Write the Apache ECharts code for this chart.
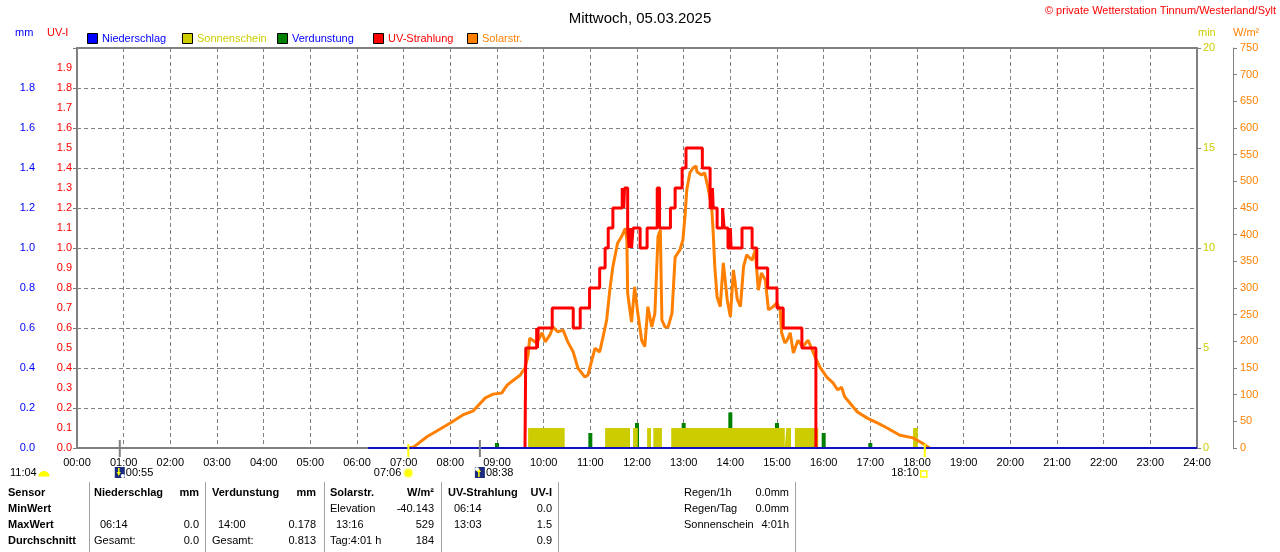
<!DOCTYPE html>
<html>
<head>
<meta charset="utf-8">
<script src="https://cdn.jsdelivr.net/npm/echarts@6/dist/echarts.min.js"></script>
<style>
  html, body { margin: 0; padding: 0; background: #fff; }
  #chart { width: 1280px; height: 552px; }
</style>
</head>
<body>
<div id="chart"></div>
<script>
// Zeiten in Minuten seit 00:00
var solarTime = [426, 433, 450, 480, 496, 509, 525, 535, 546, 553, 561, 570, 576, 580, 582, 586, 591, 598, 602, 608, 612, 618, 625, 631, 638, 644, 653, 657, 662, 666, 672, 676, 681, 685, 689, 695, 700, 705, 707, 708, 713, 717, 721, 726, 730, 734, 739, 743, 747, 750, 752, 756, 760, 765, 769, 775, 779, 782, 784, 788, 792, 796, 797, 803, 807, 811, 816, 818, 820, 823, 827, 831, 836, 840, 844, 849, 853, 857, 861, 868, 872, 876, 880, 885, 889, 895, 900, 904, 906, 910, 913, 917, 921, 927, 933, 940, 949, 955, 964, 972, 978, 983, 987, 994, 1003, 1016, 1029, 1041, 1058, 1075, 1087, 1094, 1096];
var solarValue = [0, 2, 21, 47, 62, 69, 94, 101, 103, 118, 127, 137, 150, 174, 206, 202, 197, 216, 199, 212, 227, 218, 221, 199, 180, 150, 133, 137, 165, 187, 180, 206, 240, 296, 340, 384, 396, 412, 390, 290, 236, 302, 253, 202, 190, 265, 227, 253, 396, 409, 240, 227, 227, 253, 358, 371, 390, 440, 484, 516, 525, 529, 518, 512, 516, 490, 452, 403, 340, 283, 265, 347, 278, 246, 334, 278, 265, 340, 362, 352, 371, 296, 328, 315, 259, 265, 272, 259, 216, 197, 202, 216, 178, 202, 190, 202, 171, 152, 133, 122, 109, 114, 96, 84, 68, 56, 47, 38, 24, 19, 9, 2, 0];

var uvTime = [576, 577, 591, 592, 593, 611, 638, 647, 659, 672, 679, 683, 689, 701, 703, 704, 708, 710, 712, 713, 715, 724, 733, 746, 749, 763, 769, 778, 783, 804, 814, 817, 818, 823, 830, 832, 837, 840, 841, 855, 868, 874, 888, 900, 908, 932, 950, 951];
var uvValue = [0, 0.5, 0.6, 0.5, 0.6, 0.7, 0.6, 0.7, 0.8, 0.9, 1.0, 1.1, 1.2, 1.3, 1.2, 1.3, 1.1, 1.0, 1.1, 1.0, 1.1, 1.0, 1.1, 1.3, 1.1, 1.2, 1.3, 1.4, 1.5, 1.4, 1.2, 1.3, 1.2, 1.1, 1.2, 1.1, 1.0, 1.1, 1.0, 1.1, 1.0, 0.9, 0.8, 0.7, 0.6, 0.5, 0, 0];

var sunStart = [580, 679, 715, 733, 741, 764, 912, 923, 1075];
var sunEnd   = [627, 711, 721, 738, 752, 910, 918, 953, 1081];

var evapTime  = [540, 600, 660, 720, 780, 840, 900, 960, 1020];
var evapValue = [0.025, 0.05, 0.075, 0.125, 0.125, 0.178, 0.125, 0.075, 0.025];

var rainTime  = [374, 1440];
var rainValue = [0, 0];

var sunEvents  = [426, 1090];        // Aufgang 07:06, Untergang 18:10
var sunLabels  = ['07:06', '18:10'];
var moonEvents = [55, 518];          // 00:55, 08:38
var moonLabels = ['00:55', '08:38'];

var legendNames = ['Niederschlag', 'Sonnenschein', 'Verdunstung', 'UV-Strahlung', 'Solarstr.'];
var legendBox   = ['#0000ff', '#cccc00', '#008000', '#ff0000', '#ff8000'];
var legendText  = ['#0000ff', '#cccc00', '#0000ff', '#ff0000', '#ff8000'];

var colHead  = ['Niederschlag', 'Verdunstung', 'Solarstr.', 'UV-Strahlung'];
var colUnit  = ['mm', 'mm', 'W/m²', 'UV-I'];
var minLeft  = ['', '', 'Elevation', '06:14'];
var minRight = ['', '', '-40.143', '0.0'];
var maxLeft  = ['06:14', '14:00', '13:16', '13:03'];
var maxRight = ['0.0', '0.178', '529', '1.5'];
var avgLeft  = ['Gesamt:', 'Gesamt:', 'Tag:4:01 h', ''];
var avgRight = ['0.0', '0.813', '184', '0.9'];
var rowNames = ['Sensor', 'MinWert', 'MaxWert', 'Durchschnitt'];
var sumNames  = ['Regen/1h', 'Regen/Tag', 'Sonnenschein'];
var sumValues = ['0.0mm', '0.0mm', '4:01h'];

var FONT = '"Liberation Sans", Arial, sans-serif';

function zip(a, b) {
  var out = [];
  for (var i = 0; i < a.length; i++) out.push([a[i], b[i]]);
  return out;
}

// Sonnenschein als Blöcke (1 min Höhe)
var sunData = [];
for (var i = 0; i < sunStart.length; i++) {
  sunData.push([sunStart[i], 0], [sunStart[i], 1], [sunEnd[i], 1], [sunEnd[i], 0]);
}

function pad(n) { return (n < 10 ? '0' : '') + n; }

var grid = '#808080';

var option = {
  animation: false,
  title: {
    text: 'Mittwoch, 05.03.2025',
    left: 'center',
    top: 6,
    textStyle: { color: '#000', fontSize: 15, fontWeight: 'normal', fontFamily: FONT }
  },
  grid: {
    left: 77, right: 83, top: 48, bottom: 104,
    show: true, borderColor: grid, borderWidth: 2, backgroundColor: '#fff'
  },
  xAxis: {
    type: 'value', min: 0, max: 1440, interval: 60,
    axisLine: { show: false },
    axisTick: { show: false },
    axisLabel: {
      color: '#000', fontSize: 11, fontFamily: FONT, margin: 9,
      showMinLabel: true, showMaxLabel: true,
      formatter: function (v) { return pad(Math.round(v / 60)) + ':00'; }
    },
    splitLine: { show: true, lineStyle: { color: grid, type: [4, 3], width: 1 } }
  },
  yAxis: [
    { // mm
      type: 'value', position: 'left', offset: 36, min: 0, max: 2, interval: 0.2,
      axisLine: { show: true, lineStyle: { color: grid } },
      axisTick: { show: true, length: 4, lineStyle: { color: grid } },
      axisLabel: {
        color: '#0000ff', fontSize: 11, fontFamily: FONT, margin: 6,
        formatter: function (v) { return v > 1.99 ? '' : v.toFixed(1); }
      },
      splitLine: { show: true, lineStyle: { color: grid, type: [4, 3], width: 1 } }
    },
    { // UV-I
      type: 'value', position: 'left', offset: 0, min: 0, max: 2, interval: 0.1,
      axisLine: { show: false },
      axisTick: { show: false },
      axisLabel: {
        color: '#ff0000', fontSize: 11, fontFamily: FONT, margin: 5,
        formatter: function (v) { return v > 1.99 ? '' : v.toFixed(1); }
      },
      splitLine: { show: false }
    },
    { // min
      type: 'value', position: 'right', offset: 0, min: 0, max: 20, interval: 5,
      axisLine: { show: false },
      axisTick: { show: true, length: 4, lineStyle: { color: grid } },
      axisLabel: { color: '#cccc00', fontSize: 11, fontFamily: FONT, margin: 6 },
      splitLine: { show: false }
    },
    { // W/m²
      type: 'value', position: 'right', offset: 36, min: 0, max: 750, interval: 50,
      axisLine: { show: true, lineStyle: { color: grid } },
      axisTick: { show: true, length: 4, lineStyle: { color: grid } },
      axisLabel: { color: '#ff8000', fontSize: 11, fontFamily: FONT, margin: 7 },
      splitLine: { show: false }
    }
  ],
  series: [
    {
      name: 'Sonnenschein', type: 'line', yAxisIndex: 2, data: sunData,
      symbol: 'none', lineStyle: { width: 0 },
      areaStyle: { color: '#cccc00', opacity: 1 }, silent: true
    },
    {
      name: 'Verdunstung', type: 'bar', yAxisIndex: 0, barWidth: 4,
      data: zip(evapTime, evapValue), itemStyle: { color: '#008000' }, silent: true
    },
    {
      name: 'Solarstr.', type: 'line', yAxisIndex: 3, data: zip(solarTime, solarValue),
      symbol: 'none', lineStyle: { color: '#ff8000', width: 3 }, silent: true
    },
    {
      name: 'UV-Strahlung', type: 'line', yAxisIndex: 1, step: 'end', data: zip(uvTime, uvValue),
      symbol: 'none', lineStyle: { color: '#ff0000', width: 3 }, silent: true
    },
    {
      name: 'Niederschlag', type: 'line', yAxisIndex: 0, data: zip(rainTime, rainValue),
      symbol: 'none', clip: false, z: 5,
      lineStyle: { color: '#1010c0', width: 2 }, silent: true
    }
  ]
};

var chart = echarts.init(document.getElementById('chart'));
chart.setOption(option);

// ---- Zusatzgrafik: Legende, Achsentitel, Sonne/Mond, Tabelle ----
var g = [];
function txt(x, y, s, color, align, bold, size) {
  g.push({
    type: 'text', silent: true, z: 100,
    style: {
      text: s, x: x, y: y, fill: color || '#000',
      font: (bold ? 'bold ' : '') + (size || 11) + 'px ' + FONT,
      align: align || 'left', verticalAlign: 'middle',
      textAlign: align || 'left', textVerticalAlign: 'middle'
    }
  });
}
function rect(x, y, w, h, fill, stroke) {
  g.push({
    type: 'rect', silent: true, z: 100,
    shape: { x: x, y: y, width: w, height: h },
    style: { fill: fill, stroke: stroke || null, lineWidth: stroke ? 1 : 0 }
  });
}
function vline(x, y1, y2, color, w) {
  g.push({
    type: 'line', silent: true, z: 100,
    shape: { x1: x, y1: y1, x2: x, y2: y2 },
    style: { stroke: color, lineWidth: w || 1 }
  });
}

// Copyright
txt(1276, 11, '© private Wetterstation Tinnum/Westerland/Sylt', '#ff0000', 'right');
// Achsentitel
txt(15, 33, 'mm', '#0000ff');
txt(47, 33, 'UV-I', '#ff0000');
txt(1198, 33, 'min', '#cccc00');
txt(1233, 33, 'W/m²', '#ff8000');

// Legende
var legendX = [87, 182, 277, 373, 467];
for (var k = 0; k < legendNames.length; k++) {
  rect(legendX[k] + 0.5, 33.5, 10, 10, legendBox[k], '#000');
  txt(legendX[k] + 15, 38.5, legendNames[k], legendText[k]);
}

// Sonne / Mond Markierungen
var yAxisPx = chart.convertToPixel({ yAxisIndex: 0 }, 0);
function sunIcon(cx, cy, hollow) {
  if (hollow) {
    g.push({ type: 'rect', silent: true, z: 100, shape: { x: cx - 3, y: cy - 3, width: 6, height: 6 },
      style: { fill: '#fff', stroke: '#ffff00', lineWidth: 1.5 } });
  } else {
    g.push({ type: 'circle', silent: true, z: 100, shape: { cx: cx, cy: cy, r: 5 },
      style: { fill: '#ffff80' } });
    g.push({ type: 'circle', silent: true, z: 101, shape: { cx: cx, cy: cy, r: 3.5 },
      style: { fill: '#ffff00' } });
  }
}
function moonIcon(cx, cy, up) {
  rect(cx - 5, cy - 6, 10, 11, '#1c2a80');
  g.push({ type: 'polygon', silent: true, z: 101,
    shape: { points: up ? [[cx - 3, cy - 1], [cx + 1, cy - 1], [cx - 1, cy - 5]] : [[cx - 3, cy - 1], [cx + 1, cy - 1], [cx - 1, cy + 3]] },
    style: { fill: '#ffff00' } });
  vline(cx - 1, up ? cy - 1 : cy - 5, up ? cy + 4 : cy - 1, '#ffff00', 1.5);
  g.push({ type: 'circle', silent: true, z: 101,
    shape: { cx: up ? cx - 3 : cx + 3, cy: up ? cy - 4 : cy + 3, r: 2 }, style: { fill: '#fff' } });
}
for (var s = 0; s < sunEvents.length; s++) {
  var sx = chart.convertToPixel({ xAxisIndex: 0 }, sunEvents[s]);
  vline(sx, yAxisPx - 4, yAxisPx + 9, '#ffff00', 2);
  if (s === 0) {
    sunIcon(sx, 473, false);
    txt(sx - 7, 473, sunLabels[s], '#000', 'right');
  } else {
    sunIcon(sx - 1, 474, true);
    txt(sx - 6, 473, sunLabels[s], '#000', 'right');
  }
}
for (var m = 0; m < moonEvents.length; m++) {
  var mx = chart.convertToPixel({ xAxisIndex: 0 }, moonEvents[m]);
  vline(mx, yAxisPx - 8, yAxisPx + 9, '#808080', 2);
  moonIcon(mx, 473, m === 1);
  txt(mx + 6, 473, moonLabels[m], '#000', 'left');
}
// Mondphase links unten
txt(10, 473, '11:04', '#000');
g.push({ type: 'sector', silent: true, z: 100,
  shape: { cx: 44, cy: 476.5, r0: 0, r: 5.5, startAngle: Math.PI, endAngle: Math.PI * 2 },
  style: { fill: '#ffff00' } });

// Tabelle
var rowY = [493, 509, 525, 541];
var colL = [94, 212, 330, 448];
var colR = [199, 316, 434, 552];
var sepX = [89, 205, 324, 441, 558, 795];
for (var q = 0; q < sepX.length; q++) vline(sepX[q] + 0.5, 482, 552, '#a0a0a0', 1);
for (var r = 0; r < rowNames.length; r++) txt(8, rowY[r], rowNames[r], '#000', 'left', true);
function isTime(t) { return /^\d\d:\d\d$/.test(t); }
for (var c = 0; c < colHead.length; c++) {
  txt(colL[c], rowY[0], colHead[c], '#000', 'left', true);
  txt(colR[c], rowY[0], colUnit[c], '#000', 'right', true);
  var lefts = [minLeft[c], maxLeft[c], avgLeft[c]];
  var rights = [minRight[c], maxRight[c], avgRight[c]];
  for (var rr = 0; rr < 3; rr++) {
    if (lefts[rr]) txt(colL[c] + (isTime(lefts[rr]) ? 6 : 0), rowY[rr + 1], lefts[rr]);
    if (rights[rr]) txt(colR[c], rowY[rr + 1], rights[rr], '#000', 'right');
  }
}
for (var u = 0; u < sumNames.length; u++) {
  txt(684, rowY[u], sumNames[u]);
  txt(789, rowY[u], sumValues[u], '#000', 'right');
}

chart.setOption({ graphic: g });
</script>
</body>
</html>
